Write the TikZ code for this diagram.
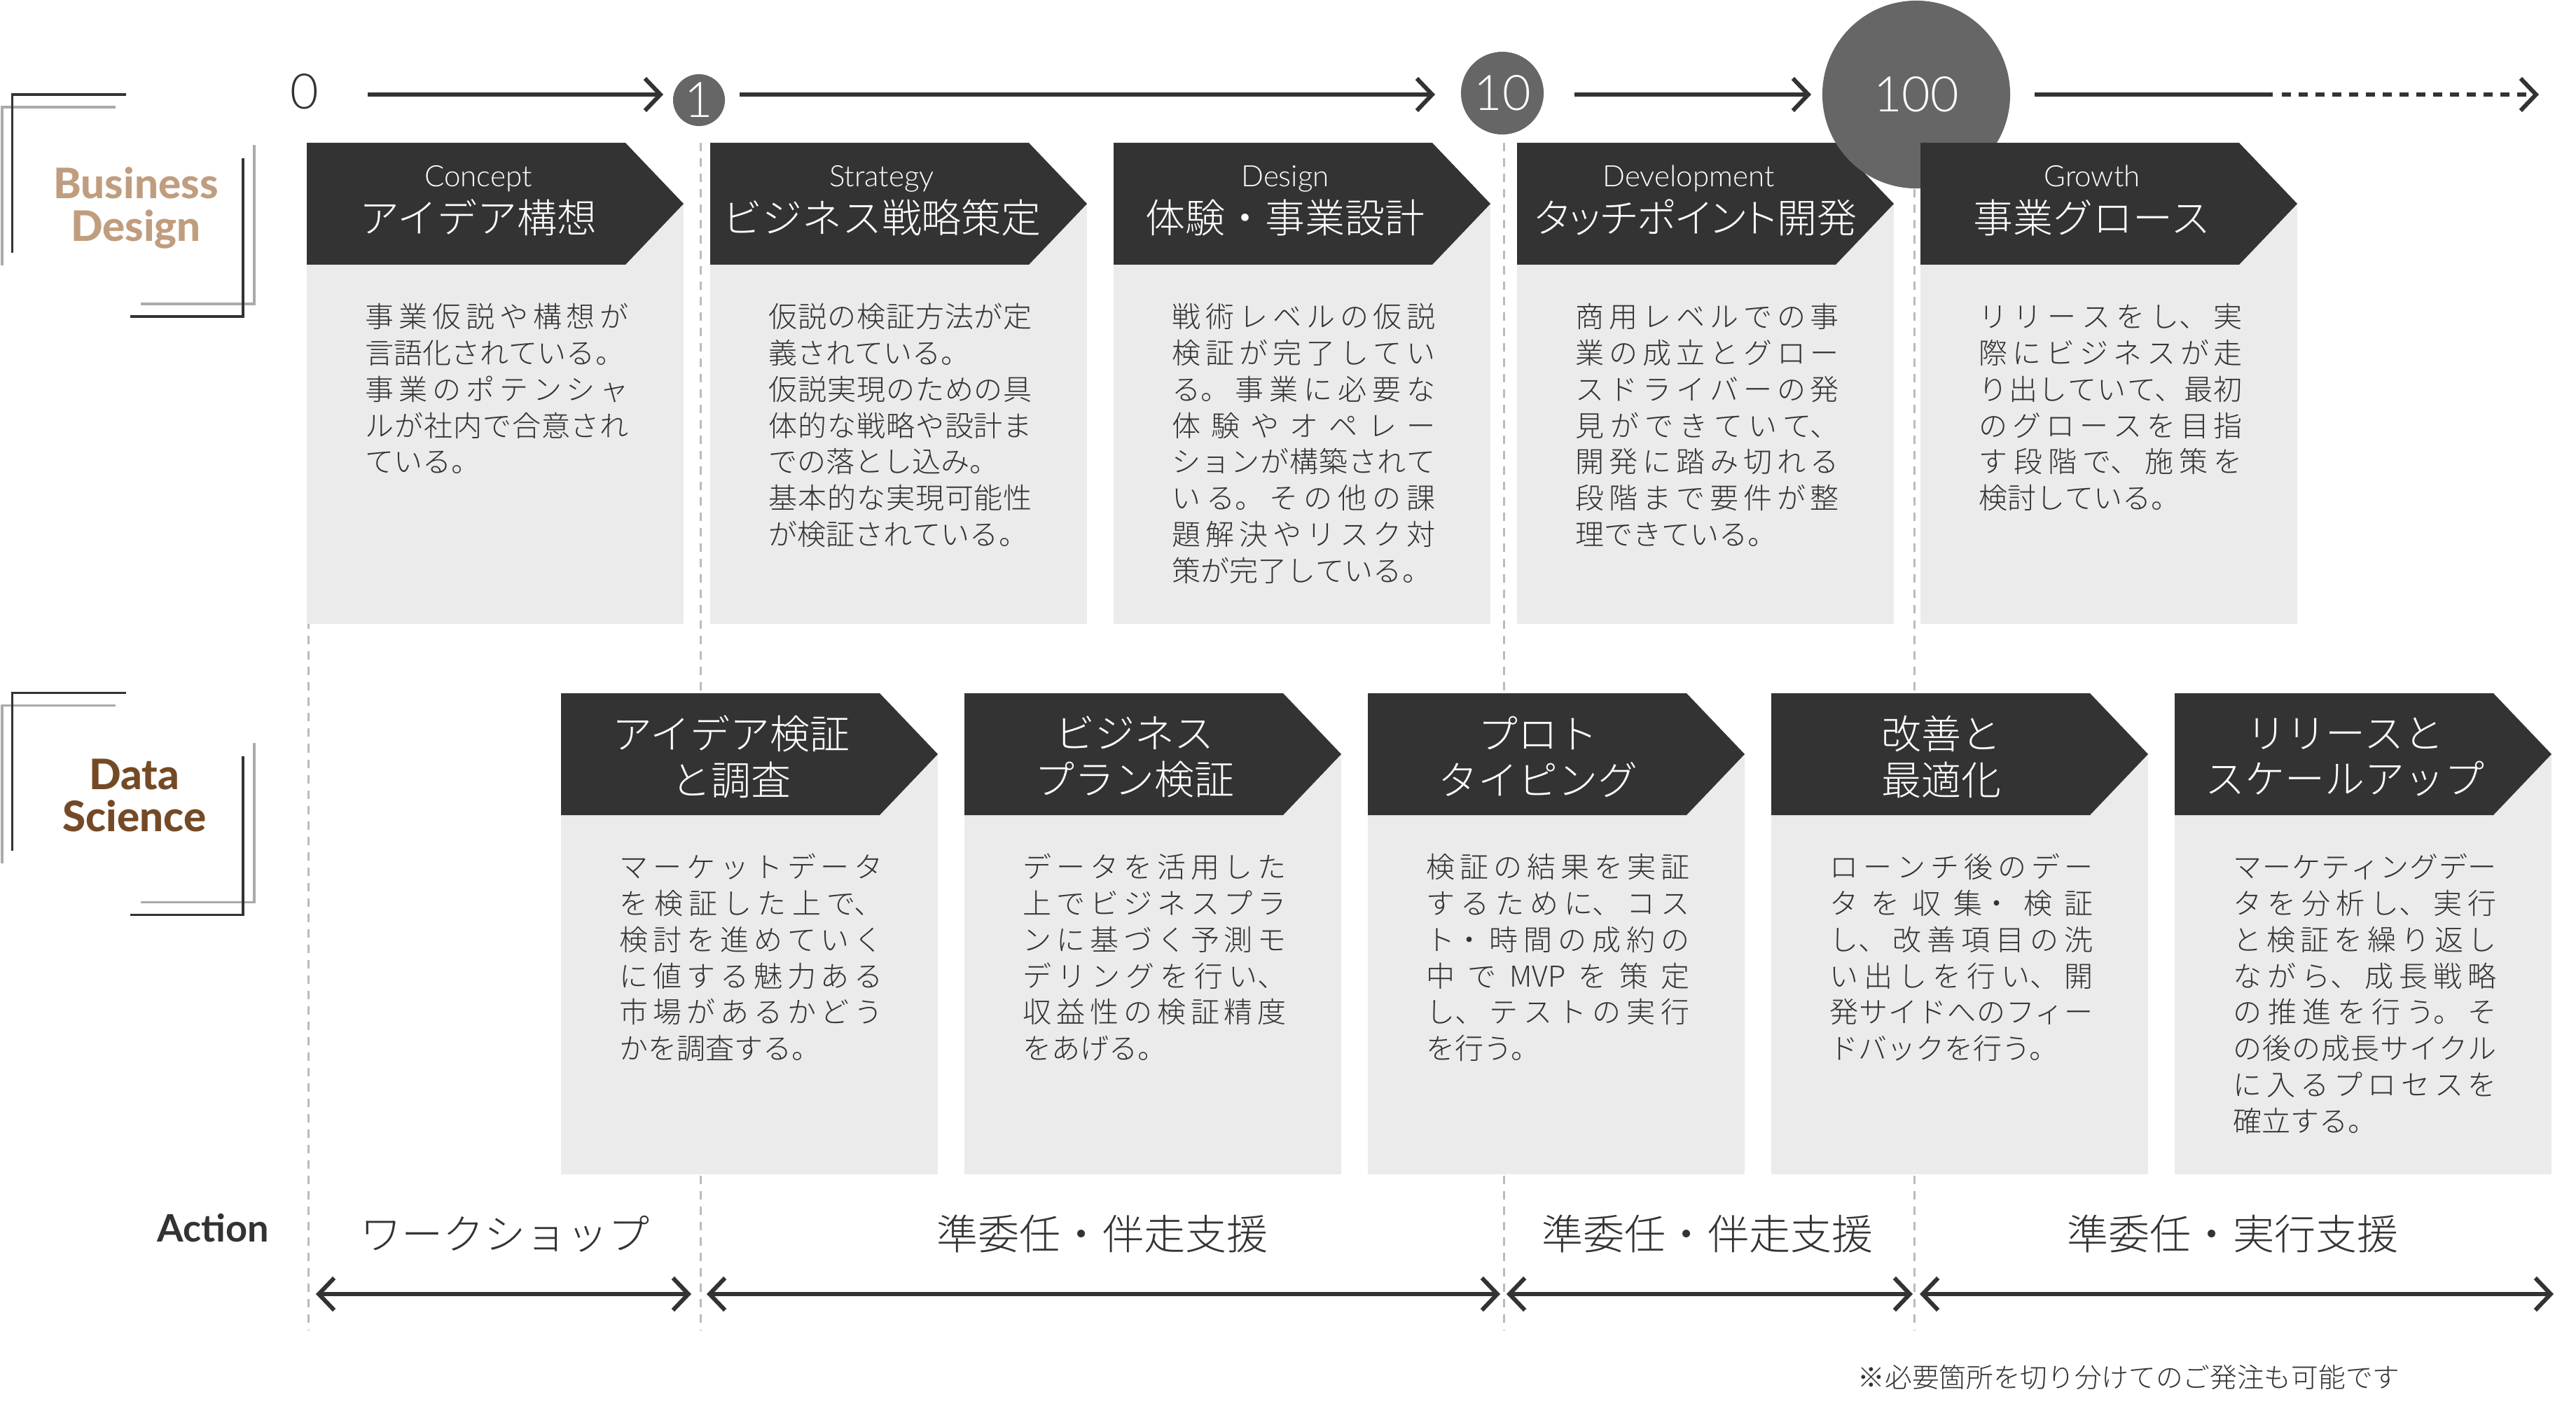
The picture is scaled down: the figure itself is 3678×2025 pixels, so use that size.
\documentclass[tikz,border=0pt]{standalone}
\usepackage{fontspec}
\usetikzlibrary{arrows.meta,calc}
\IfFontExistsTF{Noto Sans CJK JP Light}
 {\newfontfamily\jp{Noto Sans CJK JP Light}\newfontfamily\jpp{Noto Sans CJK JP Light}[RawFeature=+palt]}
 {\newfontfamily\jp{Noto Sans CJK JP}\newfontfamily\jpp{Noto Sans CJK JP}[RawFeature=+palt]}
\IfFontExistsTF{Lato Light}{\newfontfamily\ltl{Lato Light}}{\newfontfamily\ltl{Lato}}
\newfontfamily\lato{Lato}
\IfFontExistsTF{Lato Heavy}{\newfontfamily\ltheavy{Lato Heavy}}
 {\IfFontExistsTF{Lato Black}{\newfontfamily\ltheavy{Lato Black}}{\newfontfamily\ltheavy{Lato}[UprightFont=*-Bold]}}
\XeTeXlinebreaklocale "ja"
\XeTeXlinebreakskip=0pt plus 40pt\relax
\definecolor{dk}{HTML}{333333}
\definecolor{cg}{HTML}{666666}
\definecolor{lg}{HTML}{EBEBEB}
\definecolor{dg}{HTML}{BBBBBB}
\definecolor{bg}{HTML}{AAAAAA}
\definecolor{tan}{HTML}{C09D7E}
\definecolor{brn}{HTML}{744A26}
\newcommand\shapebox{%
 \fill[lg] (0,87) rectangle (538,687);
 \fill[dk] (0,0) -- (455,0) -- (538,87) -- (455,174) -- (0,174) -- cycle;}
\tikzset{
 vd/.style={draw=dg, line width=0.03cm, dash pattern=on 0.12cm off 0.1cm},
 tlplain/.style={draw=dk, line width=0.06cm},
 tl/.style={draw=dk, line width=0.06cm, -{Straight Barb[length=0.22cm,width=0.46cm]}},
 dbl/.style={draw=dk, line width=0.06cm, {Straight Barb[length=0.22cm,width=0.46cm]}-{Straight Barb[length=0.22cm,width=0.46cm]}},
 circ/.style={circle, fill=cg, text=white, inner sep=0pt, font=\ltl\fontsize{19.9pt}{22pt}\selectfont},
 subt/.style={anchor=base, text=white, inner sep=0pt, font=\ltl\fontsize{11.95pt}{14pt}\selectfont},
 ttl/.style={anchor=base, text=white, inner sep=0pt, font=\jp\fontsize{16.2pt}{18.5pt}\selectfont},
 dst/.style={anchor=center, align=center, text=white, inner sep=0pt, font=\jp\fontsize{16.2pt}{18.7pt}\selectfont},
 body/.style={anchor=north west, inner sep=0pt, text width=3.76cm, align=justify, text=dk, font=\jp\fontsize{11.67pt}{14.71pt}\selectfont},
 lbl/.style={align=center, inner sep=0pt, font=\ltheavy\fontsize{17.07pt}{17.07pt}\selectfont},
 brd/.style={draw=dk, line width=0.035cm},
 brl/.style={draw=bg, line width=0.035cm},
 act/.style={anchor=base, inner sep=0pt, text=dk, font=\jp\fontsize{16.8pt}{19pt}\selectfont},
}
\begin{document}
\begin{tikzpicture}[x=0.01cm,y=-0.01cm]
\useasboundingbox (0,0) rectangle (3678,2025);
\fill[white] (0,0) rectangle (3678,2025);
% dashed guide lines
\coordinate (p0) at (440,1848);
\coordinate (p1) at (1000,1848);
\coordinate (p2) at (2147,1848);
\coordinate (p3) at (2733,1848);
\draw[vd] (440,204) -- (440,1900);
\draw[vd] (1000,204) -- (1000,1900);
\draw[vd] (2147,204) -- (2147,1900);
\draw[vd] (2733,204) -- (2733,1900);
% brackets and row labels
\draw[brl] (165,153) -- (3,153) -- (3,379);
\draw[brd] (180,135) -- (17.5,135) -- (17.5,361);
\draw[brl] (363,207) -- (363,434) -- (201,434);
\draw[brd] (347,226) -- (347,452) -- (186,452);
\node[lbl, text=tan] (lbd) at (194,297) {Business\\Design};
\begin{scope}[yshift=-8.54cm]
\draw[brl] (165,153) -- (3,153) -- (3,379);
\draw[brd] (180,135) -- (17.5,135) -- (17.5,361);
\draw[brl] (363,207) -- (363,434) -- (201,434);
\draw[brd] (347,226) -- (347,452) -- (186,452);
\end{scope}
\node[lbl, text=brn] (lds) at (192,1136) {Data\\Science};
% top row boxes 1-4
\begin{scope}[shift={(438,204)}]
\shapebox
\node[subt] (s1) at (245,63) {Concept};
\node[ttl] (t1) at (245,129) {アイデア構想};
\node[body] (b1) at (83,227) {\strut 事業仮説や構想が\linebreak 言語化されている。\\事業のポテンシャ\linebreak ルが社内で合意され\linebreak ている。};
\end{scope}
\begin{scope}[shift={(1014,204)}]
\shapebox
\node[subt] (s2) at (245,63) {Strategy};
\node[ttl] (t2) at (245,129) {ビジネス戦略策定};
\node[body] (b2) at (83,227) {\strut 仮説の検証方法が定\linebreak 義されている。\\仮説実現のための具\linebreak 体的な戦略や設計ま\linebreak での落とし込み。\\基本的な実現可能性\linebreak が検証されている。};
\end{scope}
\begin{scope}[shift={(1590,204)}]
\shapebox
\node[subt] (s3) at (245,63) {Design};
\node[ttl] (t3) at (245,129) {体験・事業設計};
\node[body] (b3) at (83,227) {\strut 戦術レベルの仮説\linebreak 検証が完了してい\linebreak る。事業に必要な\linebreak 体験やオペレー\linebreak ションが構築されて\linebreak いる。その他の課\linebreak 題解決やリスク対\linebreak 策が完了している。};
\end{scope}
\begin{scope}[shift={(2166,204)}]
\shapebox
\node[subt] (s4) at (245,63) {Development};
\node[ttl, font=\jpp\fontsize{16.2pt}{18.5pt}\selectfont] (t4) at (255,129) {タッチポイント開発};
\node[body] (b4) at (83,227) {\strut 商用レベルでの事\linebreak 業の成立とグロー\linebreak スドライバーの発\linebreak 見ができていて、\linebreak 開発に踏み切れる\linebreak 段階まで要件が整\linebreak 理できている。};
\end{scope}
% timeline numbers
\node[anchor=center, inner sep=0pt, text=dk, font=\ltl\fontsize{19.9pt}{22pt}\selectfont] (n0) at (435,131) {0};
\node[circ, minimum size=0.74cm] (c1) at (998,143) {1};
\node[circ, minimum size=1.18cm] (c10) at (2145,133) {10};
\node[circ, minimum size=2.68cm] (c100) at (2736,135) {100};
% timeline arrows
\draw[tl] ($(n0.center)+(90,4)$) -- ($(c1.center)+(-51,-8)$);
\draw[tl] ($(c1.center)+(58,-8)$) -- ($(c10.center)+(-96,2)$);
\draw[tl] ($(c10.center)+(103,2)$) -- ($(c100.center)+(-150,0)$);
\draw[tlplain] ($(c100.center)+(169,0)$) -- ++(340,0) coordinate (tmid);
\coordinate (tend) at (3625,135);
\draw[tl, dash pattern=on 0.13cm off 0.11cm] ($(tmid)+(13,0)$) -- (tend);
% top row box 5
\begin{scope}[shift={(2742,204)}]
\shapebox
\node[subt] (s5) at (245,63) {Growth};
\node[ttl] (t5) at (245,129) {事業グロース};
\node[body] (b5) at (83,227) {\strut リリースをし、実\linebreak 際にビジネスが走\linebreak り出していて、最初\linebreak のグロースを目指\linebreak す段階で、施策を\linebreak 検討している。};
\end{scope}
% data science row
\begin{scope}[shift={(801,990)}]
\shapebox
\node[dst] (dt1) at (243,91) {アイデア検証\\と調査};
\node[body] (db1) at (83,227) {\strut マーケットデータ\linebreak を検証した上で、\linebreak 検討を進めていく\linebreak に値する魅力ある\linebreak 市場があるかどう\linebreak かを調査する。};
\end{scope}
\begin{scope}[shift={(1377,990)}]
\shapebox
\node[dst] (dt2) at (243,91) {ビジネス\\プラン検証};
\node[body] (db2) at (83,227) {\strut データを活用した\linebreak 上でビジネスプラ\linebreak ンに基づく予測モ\linebreak デリングを行い、\linebreak 収益性の検証精度\linebreak をあげる。};
\end{scope}
\begin{scope}[shift={(1953,990)}]
\shapebox
\node[dst] (dt3) at (243,91) {プロト\\タイピング};
\node[body] (db3) at (83,227) {\strut 検証の結果を実証\linebreak するために、コス\linebreak ト・時間の成約の\linebreak 中でMVPを策定\linebreak し、テストの実行\linebreak を行う。};
\end{scope}
\begin{scope}[shift={(2529,990)}]
\shapebox
\node[dst] (dt4) at (243,91) {改善と\\最適化};
\node[body] (db4) at (83,227) {\strut ローンチ後のデー\linebreak タを収集・検証\linebreak し、改善項目の洗\linebreak い出しを行い、開\linebreak 発サイドへのフィー\linebreak ドバックを行う。};
\end{scope}
\begin{scope}[shift={(3105,990)}]
\shapebox
\node[dst] (dt5) at (243,91) {リリースと\\スケールアップ};
\node[body] (db5) at (83,227) {\strut マーケティングデー\linebreak タを分析し、実行\linebreak と検証を繰り返し\linebreak ながら、成長戦略\linebreak の推進を行う。そ\linebreak の後の成長サイクル\linebreak に入るプロセスを\linebreak 確立する。};
\end{scope}
% action row
\node[anchor=base, inner sep=0pt, text=dk, font=\lato\bfseries\fontsize{15.4pt}{17pt}\selectfont] (act) at (304,1773) {Action};
\node[act] (a1) at (721,1784) {ワークショップ};
\node[act] (a2) at (1574,1784) {準委任・伴走支援};
\node[act] (a3) at (2438,1784) {準委任・伴走支援};
\node[act] (a4) at (3188,1784) {準委任・実行支援};
\coordinate (p4) at (3646,1848);
\draw[dbl] ($(p0)+(11,0)$) -- ($(p1)+(-13,0)$);
\draw[dbl] ($(p1)+(9,0)$) -- ($(p2)+(-5,0)$);
\draw[dbl] ($(p2)+(4,0)$) -- ($(p3)+(-2,0)$);
\draw[dbl] ($(p3)+(8,0)$) -- (p4);
\node[anchor=base west, inner sep=0pt, text=dk, font=\jp\fontsize{11pt}{13pt}\selectfont] (fn) at (2652,1981) {※必要箇所を切り分けてのご発注も可能です};
\end{tikzpicture}
\end{document}
